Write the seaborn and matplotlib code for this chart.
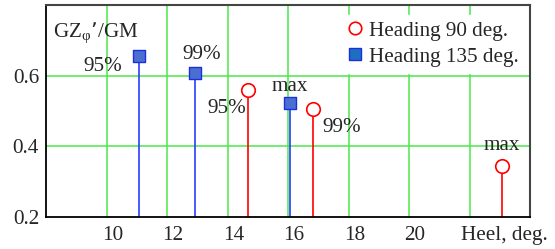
import numpy as np
import matplotlib
matplotlib.use("Agg")
import matplotlib.pyplot as plt
import matplotlib.transforms as mtransforms
import seaborn as sns
from matplotlib.lines import Line2D

# Heading 90 deg. (red open circles)
heel_90 = [14.67, 16.83, 23.07]
gz_90 = [0.560, 0.505, 0.346]
tags_90 = ["95%", "99%", "max"]

# Heading 135 deg. (blue squares)
heel_135 = [11.08, 12.94, 16.06]
gz_135 = [0.657, 0.607, 0.524]
tags_135 = ["95%", "99%", "max"]

x_ticks = [10, 12, 14, 16, 18, 20]
y_ticks = [0.2, 0.4, 0.6]

sns.set_style("white")
plt.rcParams["font.family"] = ["Liberation Serif", "DejaVu Serif"]
plt.rcParams["font.size"] = 15.2

fig = plt.figure(figsize=(5.55, 2.49), dpi=100)
ax = fig.add_axes([0.083, 0.128, 0.872, 0.852])

green = "#4be84b"
for gx in [10, 12, 14, 16, 18, 20, 22]:
    ax.axvline(gx, color=green, lw=1.1, zorder=0)
for gy in [0.4, 0.6]:
    ax.axhline(gy, color=green, lw=1.1, zorder=0)

# stems
ax.vlines(heel_90, 0.2, gz_90, color="red", lw=1.2, zorder=2)
ax.vlines(heel_135, 0.2, gz_135, color="#2b3bff", lw=1.2, zorder=2)

# markers
sns.scatterplot(x=heel_90, y=gz_90, ax=ax, marker="o", s=95,
                facecolor="white", edgecolor="red", linewidth=1.2, zorder=4)
sns.scatterplot(x=heel_135, y=gz_135, ax=ax, marker="s", s=75,
                color="#4a6fd0", edgecolor="#1a2fe0", linewidth=1.0, zorder=4)

# point labels
ax.text(heel_135[0] - 0.55, gz_135[0] - 0.005, tags_135[0], ha="right", va="top")
ax.text(heel_135[1] + 0.2, gz_135[1] + 0.025, tags_135[1], ha="center", va="bottom")
ax.text(heel_135[2], gz_135[2] + 0.018, tags_135[2], ha="center", va="bottom")
ax.text(heel_90[0] - 0.05, gz_90[0] - 0.025, tags_90[0], ha="right", va="top")
ax.text(heel_90[1] + 0.3, gz_90[1] - 0.025, tags_90[1], ha="left", va="top")
ax.text(heel_90[2], gz_90[2] + 0.03, tags_90[2], ha="center", va="bottom")

ax.text(8.22, 0.72, "GZ$_{\\mathregular{φ}}$’/GM", ha="left", va="center")

ax.set_xlim(8, 24)
ax.set_ylim(0.2, 0.8)
ax.set_xticks(x_ticks)
ax.set_xticklabels([])
ax.set_yticks(y_ticks)
ax.set_yticklabels([f"{v:.1f}" for v in y_ticks])
ax.tick_params(length=0, pad=5)

# x labels sit a little right of their grid lines
shift = mtransforms.ScaledTranslation(0.06, -0.09, fig.dpi_scale_trans)
for xv in x_ticks:
    ax.text(xv, 0, str(xv), transform=ax.get_xaxis_transform() + shift,
            ha="center", va="top")
down = mtransforms.ScaledTranslation(0, -0.09, fig.dpi_scale_trans)
ax.text(24.57, 0, "Heel, deg.", transform=ax.get_xaxis_transform() + down,
        ha="right", va="top")

for side in ["left", "bottom"]:
    ax.spines[side].set_color("black")
    ax.spines[side].set_linewidth(1.3)
for side in ["top", "right"]:
    ax.spines[side].set_color("#444444")
    ax.spines[side].set_linewidth(1.5)

handles = [
    Line2D([], [], ls="none", marker="o", ms=9, mfc="white", mec="red", mew=1.2),
    Line2D([], [], ls="none", marker="s", ms=8, mfc="#1f6fc0", mec="#1a2fe0", mew=1.0),
]
leg = ax.legend(handles, ["Heading 90 deg.", "Heading 135 deg."], loc="upper right",
                bbox_to_anchor=(0.995, 0.965), frameon=True, fancybox=False,
                handlelength=0.8, handletextpad=0.3, borderpad=0.3,
                labelspacing=0.3, borderaxespad=0.1)
leg.get_frame().set_edgecolor("white")
leg.get_frame().set_alpha(1)

fig.savefig("out.png", dpi=100)
